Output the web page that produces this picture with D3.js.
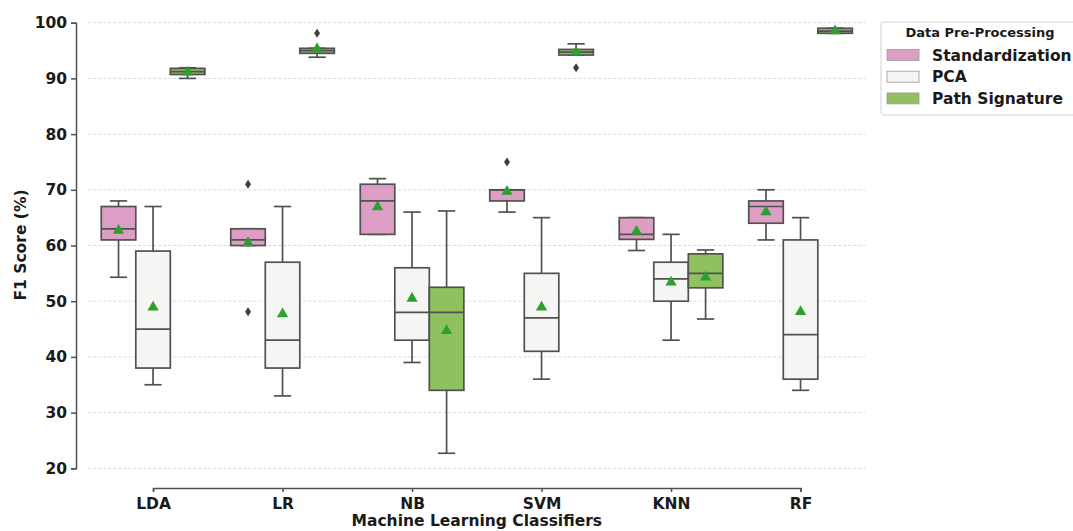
<!DOCTYPE html>
<html>
<head>
<meta charset="utf-8">
<script src="https://cdn.jsdelivr.net/npm/d3@7"></script>
<style>
  body { margin: 0; background: #fff; }
  svg { display: block; font-family: "DejaVu Sans", sans-serif; font-weight: bold; }
</style>
</head>
<body>
<div id="chart"></div>
<script>
// classifiers and pre-processing groups
var categories = ["LDA", "LR", "NB", "SVM", "KNN", "RF"];
var groups = ["Standardization", "PCA", "Path Signature"];
var groupColors = ["#dd9ec6", "#f5f5f3", "#90c060"];

// box stats per classifier: [whisker low, q1, median, q3, whisker high]
var stdStats = [
    [54.3, 61, 63, 67, 68],
    [60, 60, 61, 63, 63],
    [62, 62, 68, 71, 72],
    [66, 68, 70, 70, 70],
    [59.1, 61.1, 62, 65, 65],
    [61, 64, 67, 68, 70]
];
var pcaStats = [
    [35, 38, 45, 59, 67],
    [33, 38, 43, 57, 67],
    [39, 43, 48, 56, 66],
    [36, 41, 47, 55, 65],
    [43, 50, 54, 57, 62],
    [34, 36, 44, 61, 65]
];
var sigStats = [
    [90.0, 90.7, 91.2, 91.8, 91.9],
    [93.8, 94.5, 95.0, 95.4, 95.4],
    [22.7, 34, 48, 52.5, 66.2],
    [94.2, 94.2, 94.7, 95.2, 96.2],
    [46.8, 52.4, 55, 58.5, 59.2],
    [98.1, 98.1, 98.5, 99.0, 99.0]
];

// means (green triangles)
var stdMeans = [62.7, 60.5, 66.9, 69.7, 62.5, 66.0];
var pcaMeans = [48.9, 47.7, 50.5, 48.9, 53.4, 48.1];
var sigMeans = [91.1, 95.3, 44.7, 94.7, 54.3, 98.5];

// outliers as [classifier, value]
var stdOutliers = [["LR", 71], ["LR", 48.1], ["SVM", 75]];
var pcaOutliers = [];
var sigOutliers = [["LR", 98.1], ["SVM", 91.9]];

var yTicks = [20, 30, 40, 50, 60, 70, 80, 90, 100];

var width = 1073, height = 531;
var svg = d3.select("#chart").append("svg")
    .attr("width", width)
    .attr("height", height);

var plotLeft = 88.3, plotRight = 865.3;
var step = (plotRight - plotLeft) / categories.length;

var x = d3.scalePoint()
    .domain(categories)
    .range([plotLeft + step / 2, plotRight - step / 2]);
var xGroup = d3.scaleBand()
    .domain(groups)
    .range([-0.4 * step, 0.4 * step]);
var y = d3.scaleLinear()
    .domain([20, 100])
    .range([468.3, 22.7]);

var lineColor = "#515151";

// grid
svg.append("g")
    .selectAll("line")
    .data(yTicks)
    .join("line")
    .attr("x1", plotLeft)
    .attr("x2", plotRight)
    .attr("y1", d => y(d))
    .attr("y2", d => y(d))
    .attr("stroke", "#d9d9d9")
    .attr("stroke-width", 1)
    .attr("stroke-dasharray", "3,2");

// y axis (offset spine)
var yAxis = svg.append("g")
    .attr("transform", "translate(76,0)")
    .call(d3.axisLeft(y).tickValues(yTicks).tickSizeOuter(0).tickSize(5).tickPadding(4));
yAxis.select(".domain").attr("stroke", lineColor).attr("stroke-width", 1.5);
yAxis.selectAll(".tick line").attr("stroke", lineColor).attr("stroke-width", 1.5);
yAxis.selectAll("text")
    .attr("font-size", 15.5)
    .attr("font-family", "DejaVu Sans")
    .attr("font-weight", "bold")
    .attr("fill", "#1a1a1a");

// x axis (offset, trimmed)
var xAxis = svg.append("g")
    .attr("transform", "translate(0,488)")
    .call(d3.axisBottom(x).tickSizeOuter(0).tickSize(4).tickPadding(6));
xAxis.select(".domain").attr("stroke", lineColor).attr("stroke-width", 1.5);
xAxis.selectAll(".tick line").attr("stroke", lineColor).attr("stroke-width", 1.5);
xAxis.selectAll("text")
    .attr("font-size", 15.5)
    .attr("font-family", "DejaVu Sans")
    .attr("font-weight", "bold")
    .attr("fill", "#1a1a1a");

// axis titles
svg.append("text")
    .attr("x", (plotLeft + plotRight) / 2)
    .attr("y", 526)
    .attr("text-anchor", "middle")
    .attr("font-size", 15.5)
    .attr("fill", "#1a1a1a")
    .text("Machine Learning Classifiers");

svg.append("text")
    .attr("transform", "translate(26,245) rotate(-90)")
    .attr("text-anchor", "middle")
    .attr("font-size", 15.5)
    .attr("fill", "#1a1a1a")
    .text("F1 Score (%)");

// boxes
var series = [
    {name: groups[0], stats: stdStats, means: stdMeans, outliers: stdOutliers, color: groupColors[0]},
    {name: groups[1], stats: pcaStats, means: pcaMeans, outliers: pcaOutliers, color: groupColors[1]},
    {name: groups[2], stats: sigStats, means: sigMeans, outliers: sigOutliers, color: groupColors[2]}
];

var bw = xGroup.bandwidth();
var boxG = svg.append("g");

series.forEach(function(s) {
    var off = xGroup(s.name) + bw / 2;
    s.stats.forEach(function(st, i) {
        var cx = x(categories[i]) + off;
        var g = boxG.append("g");
        // whiskers
        g.append("line").attr("x1", cx).attr("x2", cx)
            .attr("y1", y(st[3])).attr("y2", y(st[4]));
        g.append("line").attr("x1", cx).attr("x2", cx)
            .attr("y1", y(st[1])).attr("y2", y(st[0]));
        // caps
        g.append("line").attr("x1", cx - bw / 4).attr("x2", cx + bw / 4)
            .attr("y1", y(st[4])).attr("y2", y(st[4]));
        g.append("line").attr("x1", cx - bw / 4).attr("x2", cx + bw / 4)
            .attr("y1", y(st[0])).attr("y2", y(st[0]));
        // box
        g.append("rect")
            .attr("x", cx - bw / 2)
            .attr("width", bw)
            .attr("y", y(st[3]))
            .attr("height", Math.max(y(st[1]) - y(st[3]), 1))
            .attr("fill", s.color);
        // median
        g.append("line").attr("x1", cx - bw / 2).attr("x2", cx + bw / 2)
            .attr("y1", y(st[2])).attr("y2", y(st[2]));
        g.selectAll("line, rect")
            .attr("stroke", lineColor)
            .attr("stroke-width", 1.7);
    });

    // outliers
    boxG.append("g")
        .selectAll("path")
        .data(s.outliers)
        .join("path")
        .attr("transform", d => "translate(" + (x(d[0]) + off) + "," + y(d[1]) + ")")
        .attr("d", "M0,-4.5L3,0L0,4.5L-3,0Z")
        .attr("fill", "#3d3d3d");

    // means
    boxG.append("g")
        .selectAll("path")
        .data(s.means)
        .join("path")
        .attr("transform", (d, i) => "translate(" + (x(categories[i]) + off) + "," + y(d) + ")")
        .attr("d", d3.symbol().type(d3.symbolTriangle).size(55))
        .attr("fill", "#2ca02c");
});

// legend
var legend = svg.append("g").attr("transform", "translate(881,22)");
legend.append("rect")
    .attr("x", 0).attr("y", 0)
    .attr("width", 200).attr("height", 93)
    .attr("rx", 3)
    .attr("fill", "#fff")
    .attr("stroke", "#d0d0d0");
legend.append("text")
    .attr("x", 99)
    .attr("y", 15)
    .attr("text-anchor", "middle")
    .attr("font-size", 13)
    .attr("fill", "#1a1a1a")
    .text("Data Pre-Processing");
var items = legend.selectAll(".item")
    .data(groups)
    .join("g")
    .attr("transform", (d, i) => "translate(6," + (33 + i * 21.7) + ")");
items.append("rect")
    .attr("x", 0).attr("y", -5.5)
    .attr("width", 32).attr("height", 11)
    .attr("fill", (d, i) => groupColors[i])
    .attr("stroke", "#9a9a9a")
    .attr("stroke-width", 0.8);
items.append("text")
    .attr("x", 45)
    .attr("y", 5.5)
    .attr("font-size", 15.5)
    .attr("fill", "#1a1a1a")
    .text(d => d);
</script>
</body>
</html>
